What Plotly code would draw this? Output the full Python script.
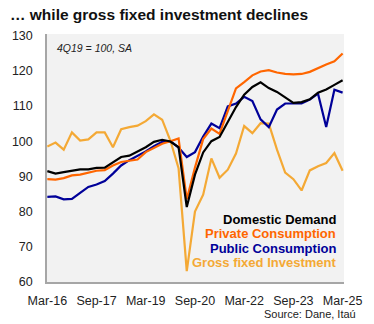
import plotly.graph_objects as go

# Quarterly index, 4Q19 = 100, seasonally adjusted (1Q16 .. 1Q25)
quarters = list(range(37))
tick_pos = [0, 6, 12, 18, 24, 30, 36]
tick_labels = ["Mar-16", "Sep-17", "Mar-19", "Sep-20", "Mar-22", "Sep-23", "Mar-25"]

domestic_demand = [91.5, 90.8, 91.2, 91.7, 92.0, 92.0, 92.4, 92.5, 94.1, 95.5,
                   95.9, 97.1, 98.3, 99.8, 100.4, 99.9, 98.3, 81.3, 90.5, 96.8,
                   100.0, 101.2, 105.5, 109.7, 113.2, 115.4, 116.7, 115.1, 114.0, 112.4,
                   110.9, 111.1, 111.9, 113.8, 114.7, 116.0, 117.3]
private_consumption = [89.2, 89.1, 89.5, 90.3, 90.5, 91.1, 91.6, 91.8, 93.1, 94.1,
                       94.4, 94.8, 96.9, 98.2, 99.3, 100.0, 100.8, 83.5, 92.5, 100.6,
                       103.6, 102.1, 108.5, 115.0, 116.8, 118.7, 119.8, 120.2, 119.5, 119.1,
                       119.0, 119.1, 119.7, 120.8, 121.8, 122.7, 124.9]
public_consumption = [84.2, 84.3, 83.5, 83.6, 85.3, 87.0, 87.7, 88.7, 90.8, 93.1,
                      94.6, 95.8, 97.1, 98.6, 99.8, 100.0, 98.2, 95.5, 96.9, 101.3,
                      105.0, 103.7, 109.9, 110.7, 112.6, 111.4, 106.2, 104.0, 109.0, 110.7,
                      110.7, 110.7, 111.8, 113.5, 104.0, 114.6, 113.8]
gross_fixed_investment = [98.5, 99.6, 97.6, 102.5, 100.2, 100.5, 102.5, 102.5, 98.3, 103.4,
                          104.0, 104.4, 105.7, 107.6, 106.1, 100.2, 92.3, 63.1, 80.0, 84.8,
                          95.1, 89.6, 91.9, 96.5, 104.3, 102.3, 105.1, 105.0, 97.6, 91.1,
                          89.2, 86.0, 91.7, 92.9, 93.8, 96.6, 91.6]

series_names = ["Gross fixed Investment", "Public Consumption", "Private Consumption", "Domestic Demand"]
series_values = [gross_fixed_investment, public_consumption, private_consumption, domestic_demand]
series_colors = ["#F4A935", "#000099", "#FF6600", "#000000"]

FONT = "Liberation Sans, Arial, sans-serif"

fig = go.Figure()
for name, vals, col in zip(series_names, series_values, series_colors):
    fig.add_trace(go.Scatter(x=quarters, y=vals, mode="lines", name=name,
                             line=dict(color=col, width=2.2), hoverinfo="skip"))

annotations = []
# Legend drawn as coloured labels inside the plot
legend_rows = [("Domestic Demand", "#000000", 0.252),
               ("Private Consumption", "#FF6600", 0.194),
               ("Public Consumption", "#000099", 0.134),
               ("Gross fixed Investment", "#F4A935", 0.077)]
for text, col, yy in legend_rows:
    annotations.append(dict(xref="paper", yref="paper", x=0.979, y=yy, text="<b>%s</b>" % text,
                            showarrow=False, xanchor="right", yanchor="middle",
                            font=dict(family=FONT, size=13, color=col)))
annotations.append(dict(xref="paper", yref="paper", x=0.027, y=0.944, text="<i>4Q19 = 100, SA</i>",
                        showarrow=False, xanchor="left", yanchor="middle",
                        font=dict(family=FONT, size=10.5, color="#222222")))
annotations.append(dict(xref="paper", yref="paper", x=1.046, y=-0.128, text="Source: Dane, Itaú",
                        showarrow=False, xanchor="right", yanchor="middle",
                        font=dict(family=FONT, size=11, color="#222222")))

fig.update_layout(
    width=374, height=324,
    margin=dict(l=37, r=26, t=34, b=42, pad=0),
    paper_bgcolor="white", plot_bgcolor="#F2F2F2",
    showlegend=False,
    title=dict(text="<b>\u2026 while gross fixed investment declines</b>", x=10 / 374, xref="container",
               xanchor="left", y=1 - 15 / 324, yref="container", yanchor="middle",
               font=dict(family=FONT, size=15.5, color="#111111")),
    annotations=annotations,
    xaxis=dict(range=[-0.04, 36.17], tickmode="array", tickvals=tick_pos, ticktext=tick_labels,
               showgrid=False, zeroline=False, showline=True, linecolor="#A6A6A6", linewidth=1.5,
               ticks="", ticklabelstandoff=6,
               tickfont=dict(family=FONT, size=12.5, color="#222222")),
    yaxis=dict(range=[60, 130.45], tickmode="linear", tick0=60, dtick=10,
               showgrid=False, zeroline=False, showline=True, linecolor="#A6A6A6", linewidth=1.5,
               ticks="", ticklabelstandoff=10,
               tickfont=dict(family=FONT, size=12.5, color="#222222")),
)

fig.write_html("out.html")
